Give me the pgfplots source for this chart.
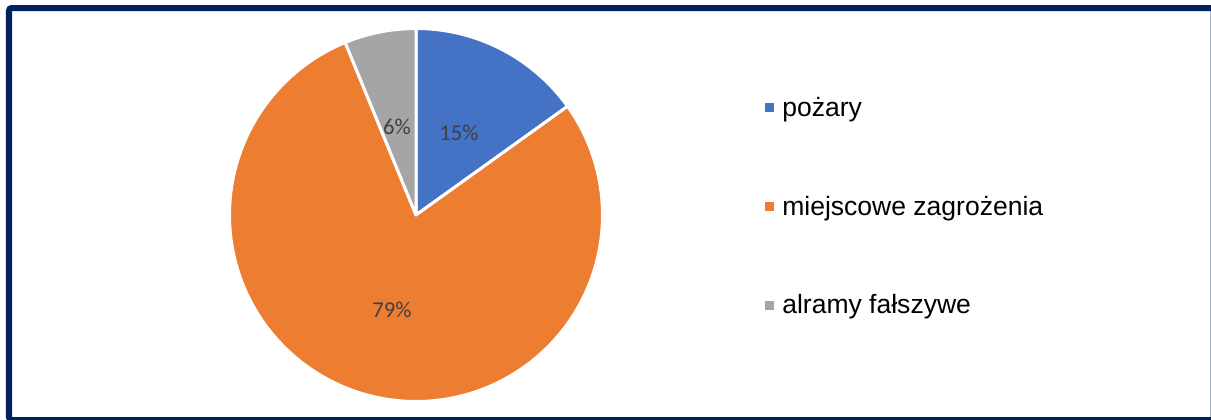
\documentclass[border=0pt]{standalone}
\usepackage{pgfplots}
\pgfplotsset{compat=1.18}
\usepackage{pgfplotstable}
\usepackage{fontspec}
\setmainfont{Liberation Sans}
\newfontfamily\labfont{Carlito}
\definecolor{cBlue}{HTML}{4472C4}
\definecolor{cOrange}{HTML}{ED7D31}
\definecolor{cGray}{HTML}{A5A5A5}
\definecolor{cFrame}{HTML}{002060}
\definecolor{cLab}{HTML}{404040}
\pgfplotstableread{
value
15.1
78.7
6.2
}\piedata
\begin{document}
\begin{tikzpicture}
\pgfplotstablegetelem{0}{value}\of\piedata \let\va\pgfplotsretval
\pgfplotstablegetelem{1}{value}\of\piedata \let\vb\pgfplotsretval
\pgfplotstablegetelem{2}{value}\of\piedata \let\vc\pgfplotsretval
\pgfmathsetmacro{\aA}{90}
\pgfmathsetmacro{\aB}{\aA-3.6*\va}
\pgfmathsetmacro{\aC}{\aB-3.6*\vb}
\pgfmathsetmacro{\aD}{\aC-3.6*\vc}
\begin{axis}[
  name=ax,
  x=0.75pt, y=0.75pt,
  xmin=0, xmax=1211, ymin=0, ymax=419,
  scale only axis, hide axis, clip=false,
  legend cell align=left,
  legend style={at={(axis cs:765,322)}, anchor=north west, draw=none, fill=none,
    inner sep=0pt, row sep=58pt, column sep=0pt,
    font=\fontsize{19.9}{23.8}\selectfont,
    nodes={inner xsep=6pt, inner ysep=0pt}},
  legend image code/.code={\fill[#1,draw=none] (0pt,-3.375pt) rectangle (6.75pt,3.375pt);},
  pie/.style={line width=2.25pt, draw=white, line join=round},
]
\addplot[pie, fill=cBlue, domain=\aA:\aB, samples=40] ({416+186.5*cos(x)},{204+186.5*sin(x)}) -- (axis cs:416,204) -- cycle;
\addlegendentry{pożary}
\addplot[pie, fill=cOrange, domain=\aB:\aC, samples=160] ({416+186.5*cos(x)},{204+186.5*sin(x)}) -- (axis cs:416,204) -- cycle;
\addlegendentry{miejscowe zagrożenia}
\addplot[pie, fill=cGray, domain=\aC:\aD, samples=20] ({416+186.5*cos(x)},{204+186.5*sin(x)}) -- (axis cs:416,204) -- cycle;
\addlegendentry{alramy fałszywe}
\node[text=cLab, font=\labfont\fontsize{17}{20}\selectfont] at (axis cs:459,286) {15\%};
\node[text=cLab, font=\labfont\fontsize{17}{20}\selectfont] at (axis cs:392,109) {79\%};
\node[text=cLab, font=\labfont\fontsize{17}{20}\selectfont] at (axis cs:397,292) {6\%};
\draw[cFrame, line width=4.5pt, rounded corners=2pt] (axis cs:9,411) rectangle (axis cs:1213.5,-1);
\end{axis}
\pgfresetboundingbox
\path[use as bounding box] (ax.south west) rectangle (ax.north east);
\end{tikzpicture}
\end{document}
